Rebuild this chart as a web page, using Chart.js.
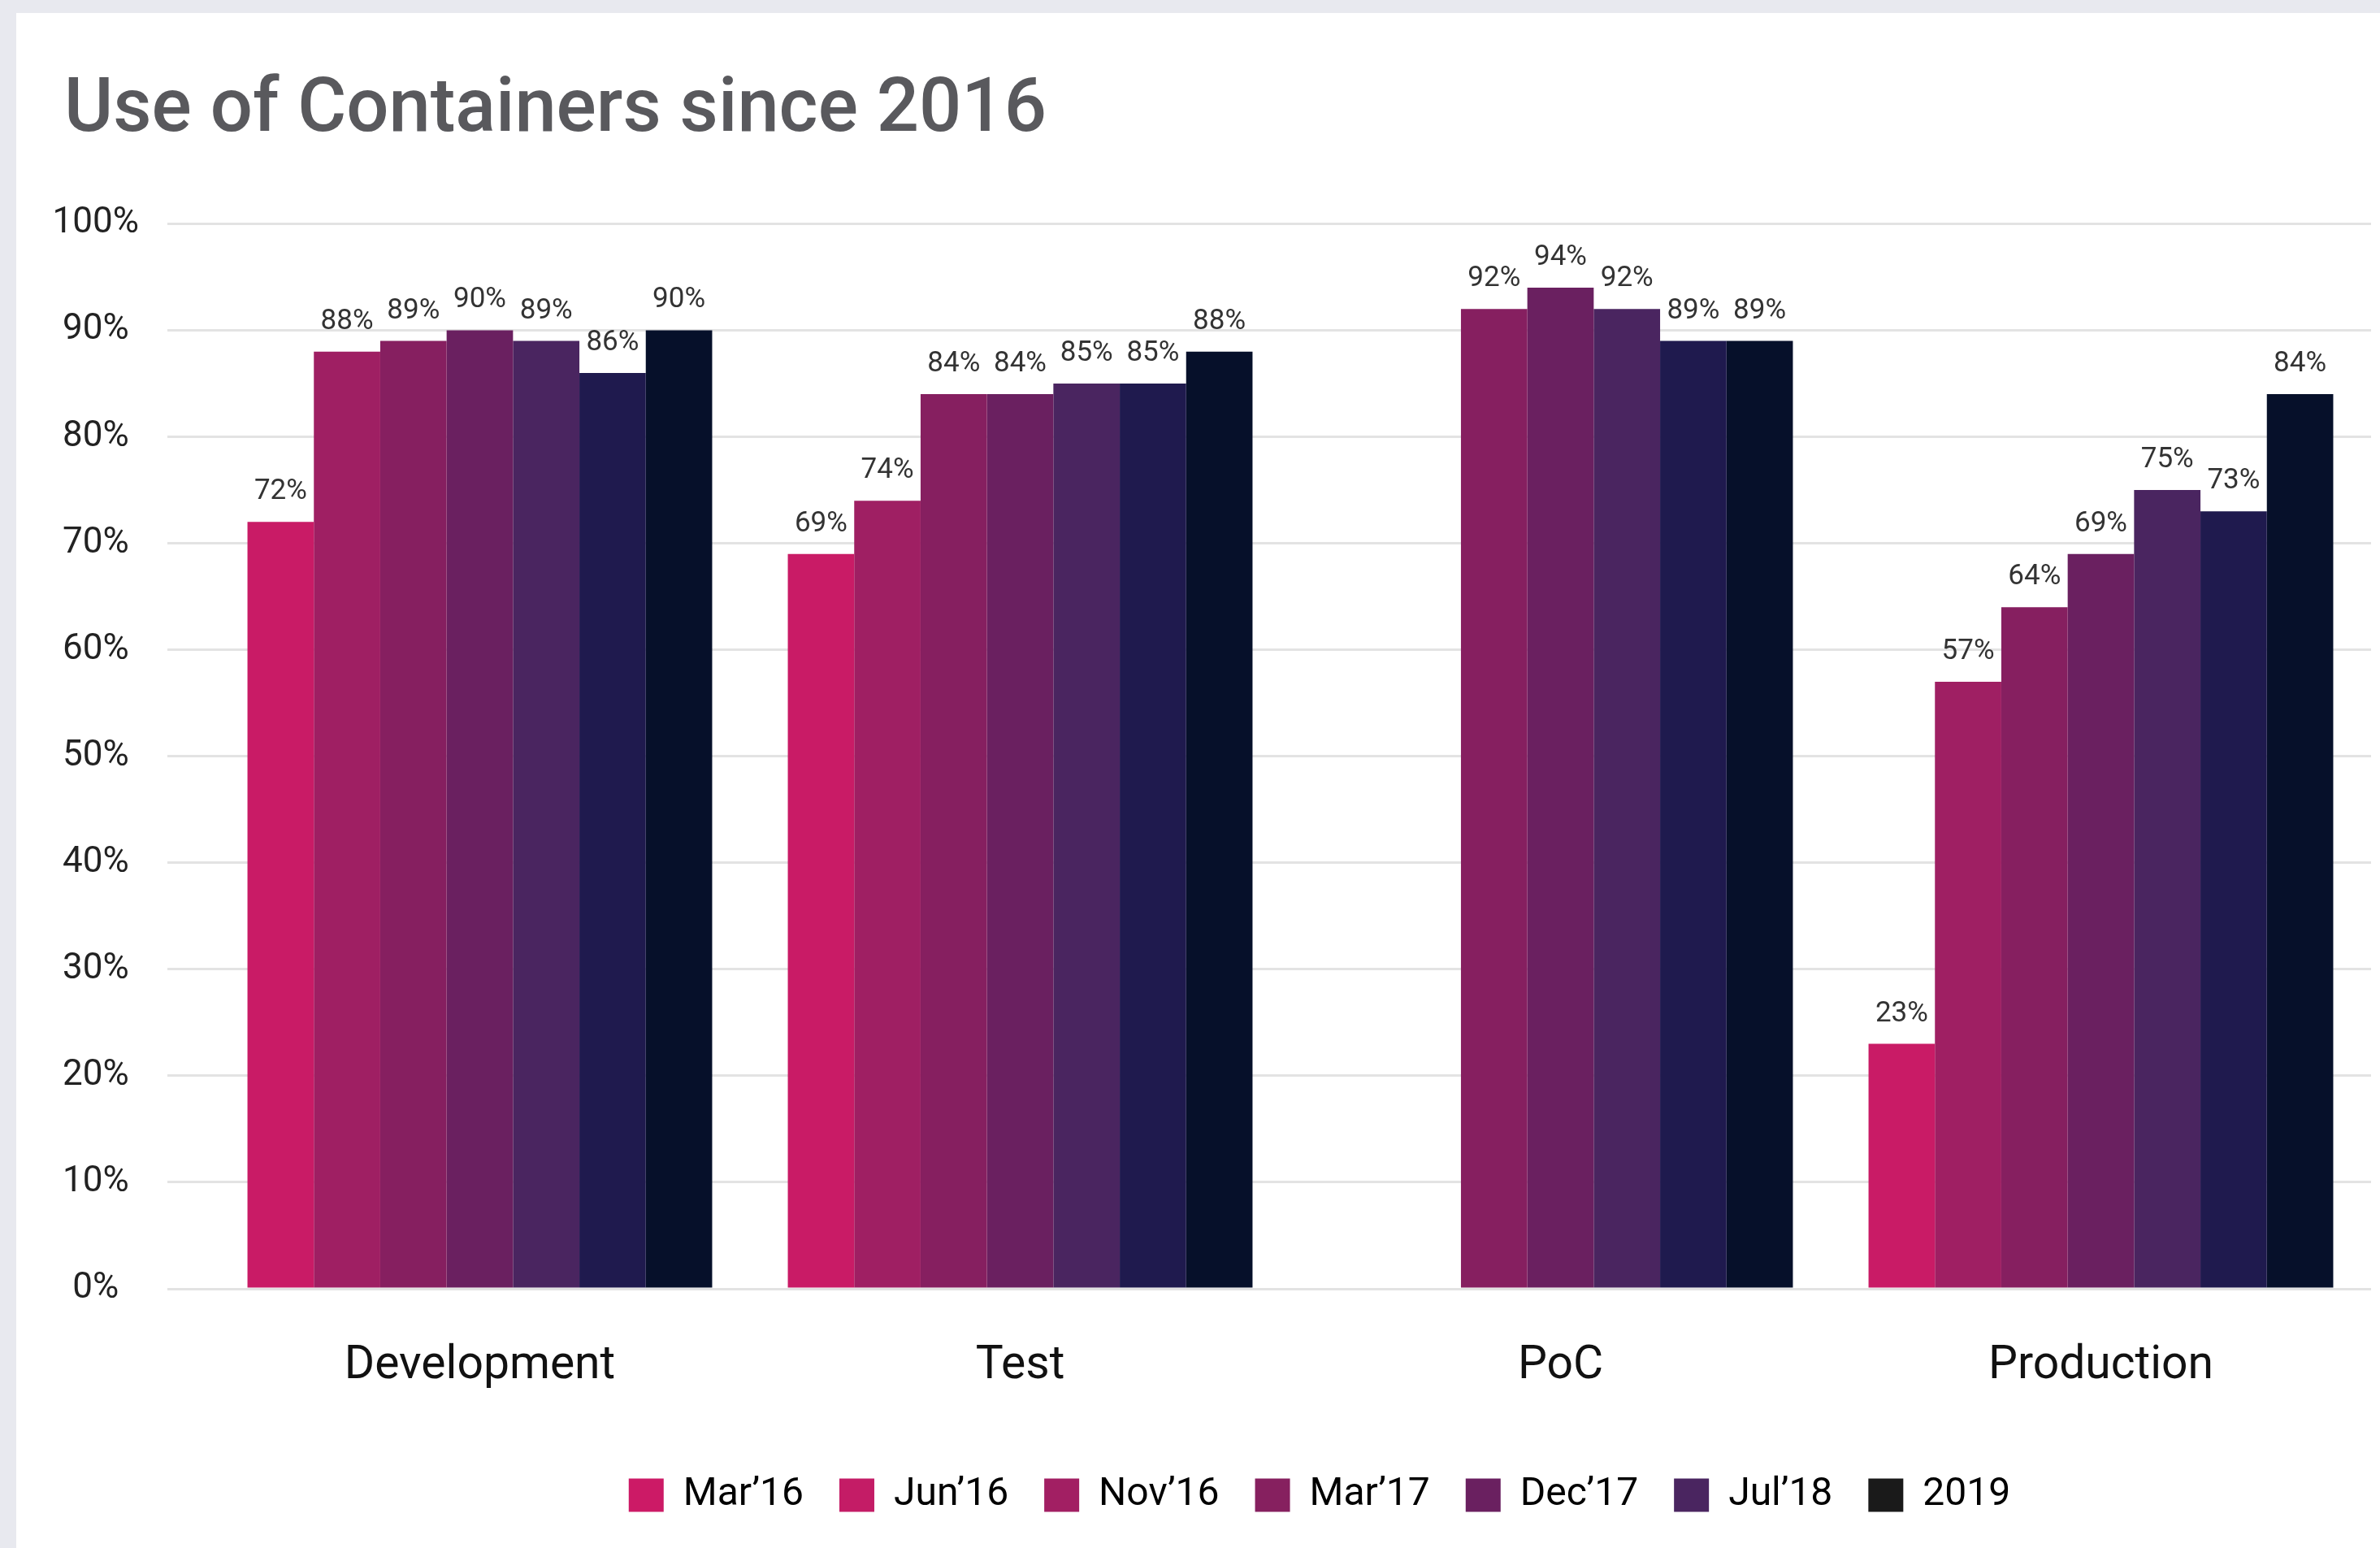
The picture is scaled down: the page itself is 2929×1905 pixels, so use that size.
<!DOCTYPE html>
<html>
<head>
<meta charset="utf-8">
<script src="https://cdn.jsdelivr.net/npm/chart.js@4"></script>
<style>
  html, body { margin: 0; padding: 0; background: #e8e9ef; width: 2929px; height: 1905px; overflow: hidden; }
  #card { position: absolute; left: 20px; top: 16px; width: 2909px; height: 1889px; background: #ffffff; }
  canvas { display: block; }
</style>
</head>
<body>
<div id="card"><canvas id="c" width="2909" height="1889"></canvas></div>
<script>
// ---- data ----
const categories = ['Development', 'Test', 'PoC', 'Production'];
const seriesNames = ['Mar\u201916', 'Jun\u201916', 'Nov\u201916', 'Mar\u201917', 'Dec\u201917', 'Jul\u201918', '2019'];
const mar16 = [72, 69, null, 23];
const jun16 = [88, 74, null, 57];
const nov16 = [89, 84, 92, 64];
const mar17 = [90, 84, 94, 69];
const dec17 = [89, 85, 92, 75];
const jul18 = [86, 85, 89, 73];
const y2019 = [90, 88, 89, 84];
const yTicks = [0, 10, 20, 30, 40, 50, 60, 70, 80, 90, 100];

// ---- style ----
const barColors = ['#c91b66', '#9f1f63', '#861f60', '#6a2060', '#4a2560', '#1f1a4e', '#06102a'];
const legendColors = ['#cc1a66', '#c41c66', '#a21f63', '#86205f', '#6a2060', '#4a2560', '#1a1a1a'];
const seriesValues = [mar16, jun16, nov16, mar17, dec17, jul18, y2019];

const datasets = seriesNames.map((name, i) => ({
  label: name,
  data: seriesValues[i],
  backgroundColor: barColors[i],
  borderWidth: 0,
  barPercentage: 1.0,
  categoryPercentage: 0.86
}));

const valueLabels = {
  id: 'valueLabels',
  afterDatasetsDraw(chart) {
    const ctx = chart.ctx;
    ctx.save();
    ctx.font = '35px Roboto';
    ctx.fillStyle = '#333333';
    ctx.textAlign = 'center';
    ctx.textBaseline = 'alphabetic';
    chart.data.datasets.forEach((ds, di) => {
      const meta = chart.getDatasetMeta(di);
      meta.data.forEach((el, idx) => {
        const v = ds.data[idx];
        if (v === null || v === undefined) return;
        ctx.fillText(v + '%', el.x, el.y - 28);
      });
    });
    ctx.restore();
  }
};

const boxShift = {
  id: 'boxShift',
  afterLayout(chart) {
    if (chart.legend) {
      chart.legend.left += 36;
      chart.legend.right += 36;
    }
    if (chart.titleBlock) {
      chart.titleBlock.left += 15;
      chart.titleBlock.right += 15;
    }
  }
};

new Chart(document.getElementById('c'), {
  type: 'bar',
  data: { labels: categories, datasets: datasets },
  plugins: [valueLabels, boxShift],
  options: {
    responsive: false,
    devicePixelRatio: 1,
    animation: false,
    layout: { padding: { left: 44, right: 11, top: 0, bottom: 31 } },
    plugins: {
      tooltip: { enabled: false },
      title: {
        display: true,
        text: 'Use of Containers since 2016',
        align: 'start',
        color: '#59595d',
        font: { family: 'Roboto', size: 92, weight: '500' },
        padding: { top: 67, bottom: 82 }
      },
      legend: {
        position: 'bottom',
        fullSize: false,
        labels: {
          font: { family: 'Roboto', size: 48 },
          color: '#1a1a1a',
          boxWidth: 43,
          boxHeight: 41,
          padding: 44,
          generateLabels(chart) {
            return chart.data.datasets.map((ds, i) => ({
              text: ds.label,
              fillStyle: legendColors[i],
              strokeStyle: legendColors[i],
              lineWidth: 0,
              hidden: false,
              datasetIndex: i
            }));
          }
        }
      }
    },
    scales: {
      x: {
        grid: { display: false, drawTicks: false },
        border: { display: false },
        ticks: {
          font: { family: 'Roboto', size: 57 },
          color: '#111111',
          padding: 62
        },
        afterFit(scale) { scale.height = 186; }
      },
      y: {
        min: 0,
        max: 100,
        afterBuildTicks(scale) { scale.ticks = yTicks.map(v => ({ value: v })); },
        afterFit(scale) { scale.width = 194; },
        grid: { color: '#e3e3e3', lineWidth: 3, drawTicks: true, tickLength: 52 },
        border: { display: false },
        ticks: {
          font: { family: 'Roboto', size: 44 },
          color: '#222222',
          padding: 35,
          crossAlign: 'center',
          callback: v => v + '%'
        }
      }
    }
  }
});
</script>
</body>
</html>
